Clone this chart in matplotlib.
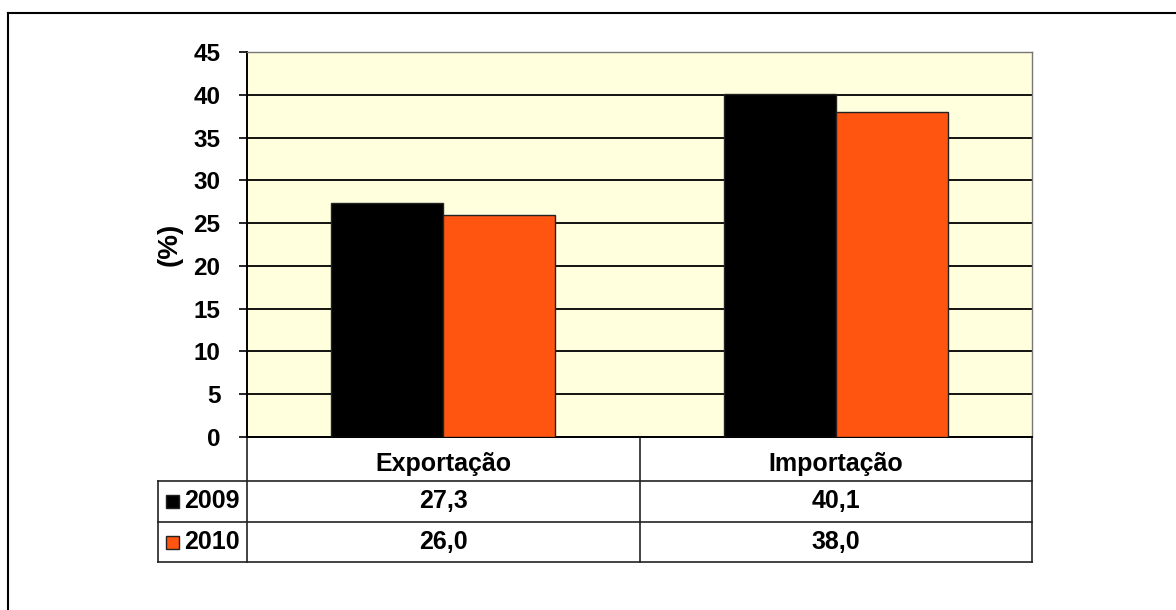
import matplotlib.pyplot as plt
import numpy as np
from matplotlib.patches import Rectangle

plt.rcParams['font.family'] = ['Liberation Sans', 'DejaVu Sans']
plt.rcParams['font.weight'] = 'bold'

categories = ['Exportação', 'Importação']
years = ['2009', '2010']
values_2009 = [27.3, 40.1]
values_2010 = [26.0, 38.0]
colors = ['#000000', '#FF5511']
yticks = [0, 5, 10, 15, 20, 25, 30, 35, 40, 45]

series = [values_2009, values_2010]

fig = plt.figure(figsize=(11.76, 6.10), dpi=100)
ax = fig.add_axes([247 / 1176, 1 - 437 / 610, 785 / 1176, 385 / 610])
ax.set_facecolor('#FFFFDD')

x = np.arange(len(categories))
w = 0.285
for i, (vals, c) in enumerate(zip(series, colors)):
    ax.bar(x + (i - 0.5) * w, vals, width=w, color=c, edgecolor='#222222',
           linewidth=1.0, zorder=3)

ax.set_xlim(-0.5, 1.5)
ax.set_ylim(0, 45)
ax.set_yticks(yticks)
ax.set_yticklabels([str(t) for t in yticks], fontsize=17.5, fontweight='bold')
ax.set_xticks([])
ax.tick_params(axis='y', direction='out', length=6, width=1.2, pad=13)
ax.grid(axis='y', color='#111111', linewidth=1.4, zorder=1)
ax.set_axisbelow(True)
for s in ['top', 'right']:
    ax.spines[s].set_color('#777777')
    ax.spines[s].set_linewidth(1.0)
ax.spines['left'].set_linewidth(1.4)
ax.spines['bottom'].set_linewidth(1.4)
ax.set_ylabel('(%)', fontsize=20, fontweight='bold', labelpad=8)

# data table below the axes, x in data units, y in axes fraction
tr = ax.get_xaxis_transform()
row_h = [44 / 385, 41 / 385, 40 / 385]
label_left = -0.5 - 89 / 392.5
col_edges = [-0.5, 0.5, 1.5]
y_top = 0.0
y_rows = [y_top]
for h in row_h:
    y_rows.append(y_rows[-1] - h)
lw = 1.2
lc = '#222222'

def hline(x0, x1, y):
    ax.plot([x0, x1], [y, y], color=lc, lw=lw, transform=tr, clip_on=False)

def vline(xv, y0, y1):
    ax.plot([xv, xv], [y0, y1], color=lc, lw=lw, transform=tr, clip_on=False)

hline(-0.5, 1.5, y_rows[0])
for y in y_rows[1:]:
    hline(label_left, 1.5, y)
for xv in col_edges:
    vline(xv, y_rows[0], y_rows[-1])
vline(label_left, y_rows[1], y_rows[-1])

for j, cat in enumerate(categories):
    ax.text(x[j], (y_rows[0] + y_rows[1]) / 2 - 0.012, cat, transform=tr,
            ha='center', va='center', fontsize=18, fontweight='bold')

sw = 13 / 392.5
sh = 13 / 385
for i, (yr, vals, c) in enumerate(zip(years, series, colors)):
    yc = (y_rows[i + 1] + y_rows[i + 2]) / 2
    ax.add_patch(Rectangle((label_left + 8 / 392.5, yc - sh / 2), sw, sh,
                           facecolor=c, edgecolor='#222222', lw=1.0,
                           transform=tr, clip_on=False))
    ax.text(label_left + 26 / 392.5, yc, yr, transform=tr,
            ha='left', va='center', fontsize=18, fontweight='bold')
    for j, v in enumerate(vals):
        ax.text(x[j], yc, f'{v:.1f}'.replace('.', ','), transform=tr,
                ha='center', va='center', fontsize=18, fontweight='bold')

# frame around the chart area (top and left edges)
fig.add_artist(plt.Line2D([8 / 1176, 1], [1 - 13 / 610, 1 - 13 / 610],
                          color='black', lw=1.5, transform=fig.transFigure))
fig.add_artist(plt.Line2D([8 / 1176, 8 / 1176], [0, 1 - 13 / 610],
                          color='black', lw=1.5, transform=fig.transFigure))

fig.savefig('out.png', dpi=100, facecolor='white')
